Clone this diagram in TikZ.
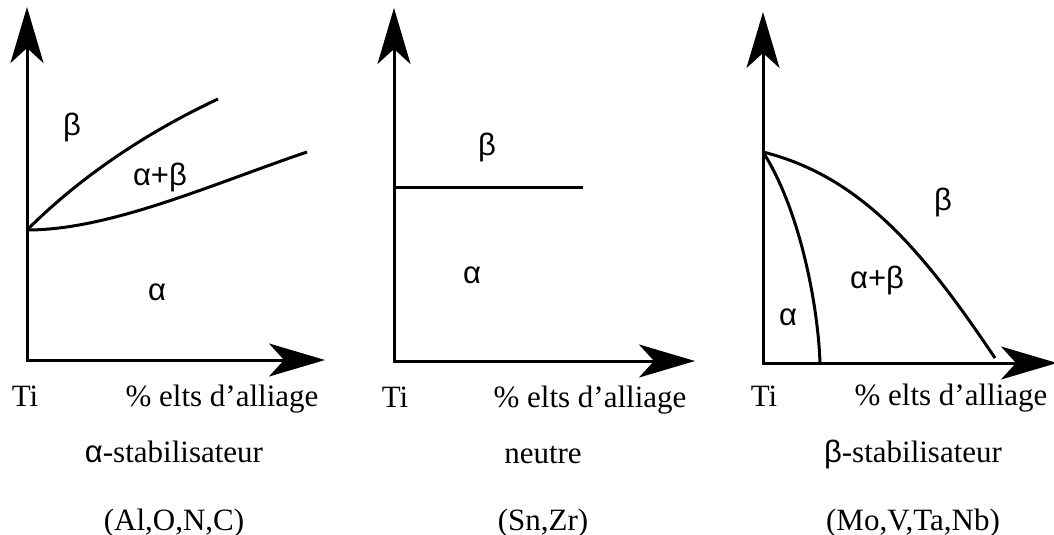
\documentclass[tikz,border=0pt]{standalone}
\usepackage{fontspec}
\setmainfont{Liberation Serif}
\newfontfamily\grk{Liberation Sans}
\usetikzlibrary{arrows.meta}

\begin{document}
\begin{tikzpicture}[x=0.5pt,y=-0.5pt,line width=1.5pt,
  big/.tip={Stealth[length=28pt,width=16.5pt,inset=7.5pt]},
  axis/.style={big-big,line join=miter},
  every node/.style={font=\fontsize{15.5}{18}\selectfont,inner sep=0pt},
  lbl/.style={anchor=base},
  phase/.style={font=\grk\fontsize{15.5}{18}\selectfont}]
\useasboundingbox (0,0) rectangle (1054,535);
% alpha-stabilisateur
\coordinate (O1) at (27,360);
\coordinate (Y1) at (27,7);
\coordinate (X1) at (325,360);
\coordinate (T1) at (27,230);
\coordinate (U1) at (218,99);
\coordinate (L1) at (307,152);
\draw[axis] (Y1) -- (O1) -- (X1);
\draw (T1) .. controls (87,170) and (158,127) .. (U1);
\draw (T1) .. controls (110,230) and (210,185) .. (L1);
\node[phase] (b1) at (72,127) {β};
\node[phase] (ab1) at (160,177) {α+β};
\node[phase] (a1) at (157,292) {α};
\node[lbl] (ti1) at (25,406) {Ti};
\node[lbl] (el1) at (222,406) {\% elts d’alliage};
\node[lbl] (st1) at (174,462) {{\grk α}-stabilisateur};
\node[lbl] (ex1) at (174,530) {(Al,O,N,C)};
% neutre
\coordinate (O2) at (394,361);
\coordinate (Y2) at (394,8);
\coordinate (X2) at (695,361);
\coordinate (T2) at (394,187);
\coordinate (E2) at (583,187);
\draw[axis] (Y2) -- (O2) -- (X2);
\draw (T2) -- (E2);
\node[phase] (b2) at (487,147) {β};
\node[phase] (a2) at (472,275) {α};
\node[lbl] (ti2) at (395,407) {Ti};
\node[lbl] (el2) at (590,407) {\% elts d’alliage};
\node[lbl] (st2) at (543,463) {neutre};
\node[lbl] (ex2) at (543,530) {(Sn,Zr)};
% beta-stabilisateur
\coordinate (O3) at (763,363);
\coordinate (Y3) at (763,12);
\coordinate (X3) at (1057,363);
\coordinate (T3) at (763,152);
\coordinate (R3) at (995,358);
\coordinate (S3) at (820,363);
\draw[axis] (Y3) -- (O3) -- (X3);
\draw (T3) .. controls (863,177) and (925,254) .. (R3);
\draw (T3) .. controls (800,210) and (818,305) .. (S3);
\node[phase] (b3) at (943,202) {β};
\node[phase] (ab3) at (877,280) {α+β};
\node[phase] (a3) at (788,317) {α};
\node[lbl] (ti3) at (764,406) {Ti};
\node[lbl] (el3) at (951,405) {\% elts d’alliage};
\node[lbl] (st3) at (913,462) {{\grk β}-stabilisateur};
\node[lbl] (ex3) at (913,530) {(Mo,V,Ta,Nb)};
\end{tikzpicture}
\end{document}
